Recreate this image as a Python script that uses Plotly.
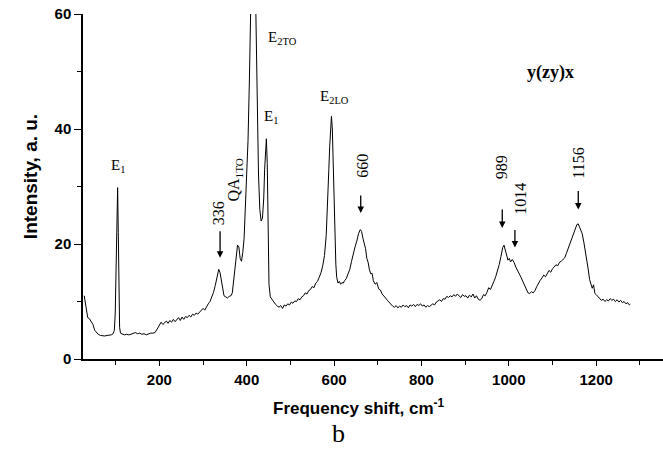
import plotly.graph_objects as go

# ---- data ----
wavenumber = [
    28, 30, 33, 36, 40, 44, 48, 52, 56, 60, 65, 70, 75, 80, 85, 90, 94, 97, 99, 101, 103, 104.5, 106, 107.5, 109, 111,
    115, 120, 125, 130, 135, 140, 145, 150, 155, 160, 165, 170, 175, 180, 185, 190, 195, 200, 204, 208, 212, 216,
    220, 224, 228, 232, 236, 240, 244, 248, 252, 256, 260, 264, 268, 272, 276, 280, 284, 288, 292, 296, 300, 304,
    308, 312, 316, 320, 324, 328, 332, 336, 339, 342, 345, 348, 352, 356, 360, 364, 367, 370, 373, 376, 379, 382,
    385, 388, 391, 394, 397, 400, 403, 406, 409, 412, 415, 418, 421, 424, 427, 430, 433, 436, 439, 441, 443, 445,
    447, 449, 451, 454, 458, 462, 466, 470, 474, 478, 482, 486, 490, 494, 498, 502, 506, 510, 514, 518, 522, 526,
    530, 534, 538, 542, 546, 550, 554, 558, 562, 566, 570, 574, 578, 582, 585, 588, 590, 592, 594, 596, 598, 600,
    602, 604, 606, 609, 612, 615, 618, 621, 624, 628, 632, 636, 640, 644, 648, 652, 656, 660, 663, 666, 669, 672,
    675, 678, 681, 684, 687, 690, 694, 698, 702, 706, 710, 714, 718, 722, 726, 730, 734, 738, 742, 746, 750, 754,
    758, 762, 766, 770, 774, 778, 782, 786, 790, 794, 798, 802, 806, 810, 814, 818, 822, 826, 830, 834, 838, 842,
    846, 850, 854, 858, 862, 866, 870, 874, 878, 882, 886, 890, 894, 898, 902, 906, 910, 914, 918, 922, 926, 930,
    934, 938, 942, 946, 950, 954, 958, 962, 966, 970, 974, 978, 982, 986, 989, 992, 995, 998, 1001, 1004, 1008,
    1012, 1016, 1020, 1024, 1028, 1032, 1036, 1040, 1044, 1048, 1052, 1056, 1060, 1064, 1068, 1072, 1076, 1080,
    1084, 1088, 1092, 1096, 1100, 1104, 1108, 1112, 1116, 1120, 1124, 1128, 1132, 1136, 1140, 1144, 1148, 1152,
    1156, 1159, 1162, 1165, 1168, 1172, 1176, 1179, 1182, 1185, 1188, 1191, 1194, 1197, 1200, 1204, 1208, 1212,
    1216, 1220, 1224, 1228, 1232, 1236, 1240, 1244, 1248, 1252, 1256, 1260, 1264, 1268, 1272, 1276, 1278,
]
intensity = [
    11.0, 10.0, 8.0, 7.2, 7.0, 6.6, 6.0, 5.0, 4.6, 4.3, 4.1, 4.0, 4.0, 4.1, 4.1, 4.2, 4.4, 5.0, 8.0, 16, 26, 29.8, 22, 10, 5.5, 4.5,
    4.3, 4.2, 4.3, 4.2, 4.3, 4.4, 4.6, 4.4, 4.5, 4.3, 4.4, 4.2, 4.4, 4.5, 4.5, 4.6, 5.2, 5.8, 6.4, 6.0, 6.3, 6.6,
    6.2, 6.7, 6.4, 6.9, 6.5, 6.8, 7.2, 6.7, 7.3, 6.9, 7.4, 7.2, 7.6, 7.3, 7.8, 7.6, 8.0, 7.8, 8.2, 8.4, 8.8, 8.5,
    9.2, 9.6, 10.0, 10.8, 11.6, 12.8, 14.5, 15.6, 15.0, 13.5, 12.0, 11.0, 10.8, 10.6, 10.9, 11.0, 11.5, 13.5, 15.5, 18.0, 19.8, 19.5,
    17.5, 17.0, 18.5, 21, 26, 32, 38, 48, 60, 75, 85, 78, 60, 45, 32, 26, 24, 24.5, 28, 33, 36, 38.3,
    34, 22, 13, 10.8, 10.3, 9.8, 9.5, 9.2, 9.0, 9.3, 8.8, 9.4, 9.2, 9.6, 9.4, 9.9, 9.7, 10.1, 10.0, 10.5, 10.3, 10.8,
    11.0, 11.5, 11.3, 11.9, 12.1, 12.6, 12.4, 13.2, 13.5, 14.2, 15.0, 16.2, 18.0, 21.5, 26, 33, 37, 41, 42.2, 40, 34, 27,
    21, 16.5, 14.2, 13.2, 13.5, 13.0, 13.3, 13.2, 13.6, 14.0, 14.8, 15.6, 17.0, 18.4, 19.5, 20.5, 21.8, 22.5, 22.2, 21.0, 20.0, 19.2,
    17.5, 16.8, 15.5, 14.8, 14.9, 13.6, 13.0, 13.3, 12.2, 12.0, 11.3, 11.0, 10.6, 10.2, 9.8, 9.5, 9.2, 9.0, 9.3, 8.9, 9.2, 9.0,
    9.4, 9.1, 9.3, 8.9, 9.4, 9.2, 9.5, 9.1, 9.5, 9.3, 9.6, 9.2, 9.4, 9.0, 9.3, 9.1, 9.4, 9.6, 9.4, 9.9, 10.1, 10.3,
    10.0, 10.5, 10.4, 10.9, 10.7, 11.0, 10.8, 11.2, 10.9, 11.3, 11.0, 10.7, 11.2, 10.9, 11.0, 10.6, 11.1, 10.8, 11.3, 10.6, 11.0, 10.4,
    10.2, 10.5, 11.2, 11.0, 11.6, 12.4, 12.1, 13.0, 13.5, 14.3, 15.2, 16.4, 17.8, 19.4, 19.8, 19.0, 17.8, 17.2, 17.5, 16.9, 17.3,
    16.8, 16.0, 15.4, 15.0, 14.2, 13.5, 12.8, 12.0, 11.5, 11.4, 11.7, 11.5, 11.9, 12.6, 13.2, 13.7, 14.1, 14.6,
    14.3, 15.0, 15.4, 15.1, 15.7, 16.0, 16.4, 16.2, 16.8, 17.0, 17.3, 17.6, 18.4, 19.2, 20.0, 20.8, 21.8, 22.6,
    23.4, 23.5, 23.0, 22.6, 21.8, 20.2, 18.5, 17.2, 15.5, 13.8, 12.8, 12.3, 12.9, 11.4, 11.2, 10.8, 10.6, 10.2,
    10.4, 10.0, 10.3, 10.1, 10.5, 10.2, 10.4, 10.0, 10.3, 9.9, 10.2, 9.8, 10.0, 9.6, 9.8, 9.4, 9.5,
]

x_major_ticks = [200, 400, 600, 800, 1000, 1200]
x_minor_ticks = [100, 300, 500, 700, 900, 1100, 1300]
y_major_ticks = [0, 20, 40, 60]
y_minor_ticks = [10, 30, 50]

# peak labels: (text, x, y, angle)
peak_labels = [
    ("E<sub>1</sub>", 105, 33.6, 0),
    ("E<sub>2TO</sub>", 483, 55.9, 0),
    ("E<sub>1</sub>", 456, 42.1, 0),
    ("E<sub>2LO</sub>", 602, 45.6, 0),
    ("QA<sub>1TO</sub>", 373, 31.2, -90),
    ("336", 337, 25.4, -90),
    ("660", 666, 33.6, -90),
    ("989", 985, 33.4, -90),
    ("1014", 1026, 27.9, -90),
    ("1156", 1159, 34.0, -90),
]
# arrows: (tip x, tip y, length px)
arrows = [
    (339, 17.6, 28),
    (661, 25.4, 19),
    (985, 22.8, 20),
    (1014, 19.4, 19),
    (1159, 26.0, 20),
]

SERIF = "Liberation Serif, Times New Roman, serif"
SANS = "Liberation Sans, Arial, sans-serif"

fig = go.Figure()
fig.add_trace(go.Scatter(x=wavenumber, y=intensity, mode="lines",
                         line=dict(color="black", width=1), showlegend=False))

annotations = []
for text, x, y, ang in peak_labels:
    annotations.append(dict(x=x, y=y, xref="x", yref="y", text=text, showarrow=False,
                            textangle=ang, xanchor="center", yanchor="middle",
                            font=dict(family=SERIF, size=15 if ang == 0 else 16, color="black")))
for x, y, L in arrows:
    annotations.append(dict(x=x, y=y, xref="x", yref="y", text="", showarrow=True,
                            ax=0, ay=-L, arrowhead=2, arrowsize=1, arrowwidth=1.3,
                            arrowcolor="black", standoff=0))
annotations.append(dict(x=1095, y=49.8, xref="x", yref="y", text="<b>y(zy)x</b>", showarrow=False,
                        font=dict(family=SERIF, size=18, color="black")))
annotations.append(dict(x=0.476, y=-0.139, xref="paper", yref="paper",
                        text="Frequency shift, cm<sup>-1</sup>", showarrow=False,
                        xanchor="center", yanchor="middle",
                        font=dict(family=SANS, size=17, color="black", weight="bold")))
annotations.append(dict(x=-0.0914, y=0.53, xref="paper", yref="paper",
                        text="Intensity, a. u.", showarrow=False, textangle=-90,
                        xanchor="center", yanchor="middle",
                        font=dict(family=SANS, size=19, color="black", weight="bold")))
annotations.append(dict(x=0.4397, y=-0.216, xref="paper", yref="paper",
                        text="b", showarrow=False, xanchor="center", yanchor="middle",
                        font=dict(family=SERIF, size=26, color="black")))

fig.update_layout(
    width=663, height=454,
    margin=dict(l=83, r=0, t=14, b=95),
    paper_bgcolor="white", plot_bgcolor="white",
    annotations=annotations,
    xaxis=dict(range=[25.2, 1353], showgrid=False, zeroline=False,
               showline=True, linecolor="black", linewidth=1.5,
               ticks="outside", ticklen=5, tickwidth=1.3, tickcolor="black",
               tickvals=x_major_ticks, ticktext=[str(v) for v in x_major_ticks],
               tickfont=dict(family=SANS, size=15, color="black", weight="bold"),
               ticklabelstandoff=1,
               minor=dict(tickvals=x_minor_ticks, ticks="outside", ticklen=4,
                          tickwidth=1.3, tickcolor="black")),
    yaxis=dict(range=[0, 60], showgrid=False, zeroline=False,
               showline=True, linecolor="black", linewidth=1.5,
               ticks="outside", ticklen=7, tickwidth=1.3, tickcolor="black",
               tickvals=y_major_ticks, ticktext=[str(v) for v in y_major_ticks],
               tickfont=dict(family=SANS, size=15, color="black", weight="bold"),
               minor=dict(tickvals=y_minor_ticks, ticks="outside", ticklen=4,
                          tickwidth=1.3, tickcolor="black")),
)

fig.write_html("out.html")
